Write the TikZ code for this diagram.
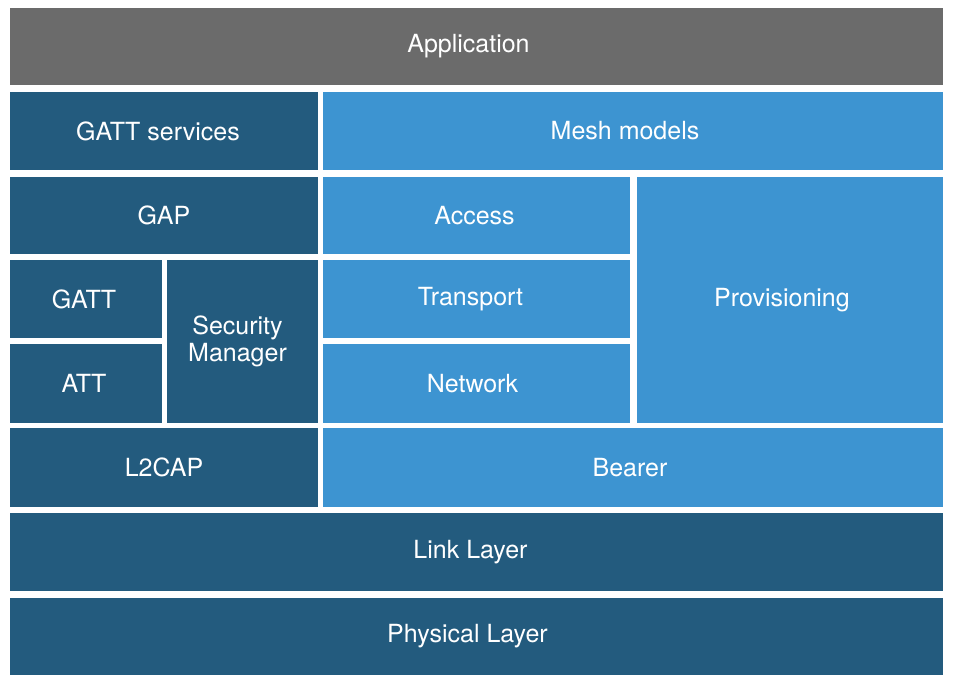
\documentclass[tikz,border=0pt]{standalone}
\usepackage{fontspec}
\setmainfont{TeX Gyre Heros}
\definecolor{appgray}{HTML}{6B6B6B}
\definecolor{bledark}{HTML}{235B7E}
\definecolor{meshblue}{HTML}{3D94D1}

\begin{document}
\begin{tikzpicture}[x=1pt,y=-1pt,font=\fontsize{25}{27}\selectfont,
  txt/.style={text=white,align=center}]
            \useasboundingbox (0,0) rectangle (954,688);
            % top
            \fill[appgray] (10,8) rectangle (943,85) node[txt,midway,xshift=-8pt] (app) {Application};
            % host side
            \fill[bledark] (10,92) rectangle (318,170) node[txt,midway,xshift=-6pt] (gattsrv) {GATT services};
            \fill[bledark] (10,177) rectangle (318,254) node[txt,midway] (gap) {GAP};
            \fill[bledark] (10,260) rectangle (162,338) node[txt,midway,xshift=-2pt] (gatt) {GATT};
            \fill[bledark] (10,344) rectangle (162,423) node[txt,midway,xshift=-2pt] (att) {ATT};
            \fill[bledark] (167,260) rectangle (318,423) node[txt,midway,xshift=-5pt] (secman) {Security\\Manager};
            \fill[bledark] (10,428) rectangle (318,507) node[txt,midway] (l2cap) {L2CAP};
            % mesh side
            \fill[meshblue] (323,92) rectangle (943,170) node[txt,midway,xshift=-8pt] (models) {Mesh models};
            \fill[meshblue] (323,177) rectangle (630,254) node[txt,midway,xshift=-2pt] (access) {Access};
            \fill[meshblue] (323,260) rectangle (630,338) node[txt,midway,xshift=-6pt] (transport) {Transport};
            \fill[meshblue] (323,344) rectangle (630,423) node[txt,midway,xshift=-4pt] (network) {Network};
            \fill[meshblue] (637,177) rectangle (943,423) node[txt,midway,xshift=-8pt] (prov) {Provisioning};
            \fill[meshblue] (323,428) rectangle (943,507) node[txt,midway,xshift=-3pt] (bearer) {Bearer};
            % controller
            \fill[bledark] (10,513) rectangle (943,591) node[txt,midway,xshift=-6pt] (link) {Link Layer};
            \fill[bledark] (10,598) rectangle (943,675) node[txt,midway,xshift=-9pt] (phy) {Physical Layer};
        \end{tikzpicture}
\end{document}
